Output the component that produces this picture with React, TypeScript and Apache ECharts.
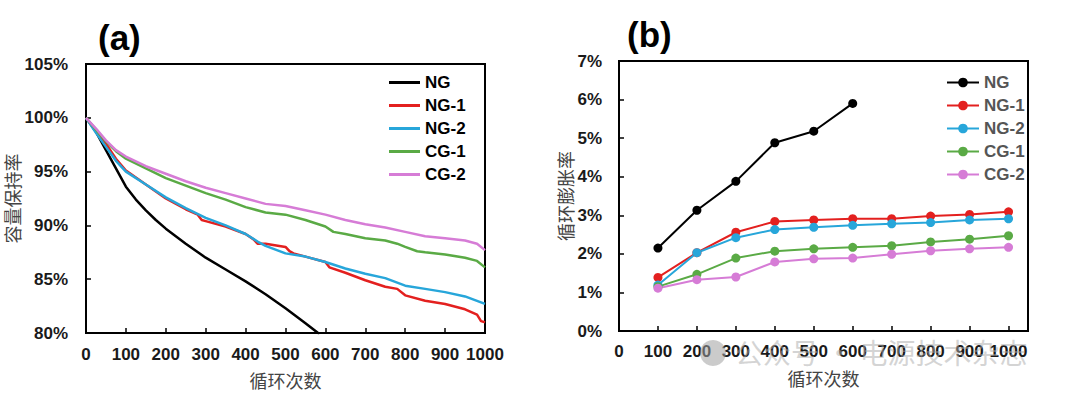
import React, { useEffect, useRef } from "react";
import * as echarts from "echarts";

// ---------- Panel (a): capacity retention (%) vs cycle ----------
const seriesNamesA = ["NG", "NG-1", "NG-2", "CG-1", "CG-2"];
const colors = ["#000000", "#E3201F", "#27A6DA", "#5AAA45", "#D67CD6"];

const ngA: [number, number][] = [
  [0, 100], [25, 98.7], [50, 97.0], [75, 95.3], [100, 93.6], [125, 92.4], [150, 91.4],
  [175, 90.5], [200, 89.7], [250, 88.3], [300, 87.0], [350, 85.9], [400, 84.8],
  [450, 83.6], [500, 82.3], [550, 80.9], [585, 79.9],
];
const ng1A: [number, number][] = [
  [0, 100], [25, 98.8], [50, 97.6], [75, 96.2], [100, 95.1], [150, 93.8], [200, 92.5],
  [250, 91.5], [280, 91.0], [290, 90.5], [300, 90.4], [350, 89.9], [400, 89.2],
  [420, 88.7], [430, 88.3], [450, 88.3], [500, 88.0], [510, 87.6], [520, 87.4],
  [550, 87.1], [600, 86.6], [610, 86.1], [650, 85.6], [700, 84.9], [750, 84.3],
  [780, 84.1], [800, 83.5], [850, 83.0], [900, 82.7], [950, 82.2], [980, 81.7],
  [990, 81.1], [1000, 81.0],
];
const ng2A: [number, number][] = [
  [0, 100], [25, 98.6], [50, 97.3], [75, 96.0], [100, 95.0], [150, 93.8], [200, 92.6],
  [250, 91.6], [300, 90.7], [350, 90.0], [400, 89.2], [430, 88.5], [450, 88.1],
  [500, 87.4], [550, 87.1], [600, 86.6], [650, 86.0], [700, 85.5], [750, 85.1],
  [800, 84.4], [850, 84.1], [900, 83.8], [950, 83.4], [1000, 82.7],
];
const cg1A: [number, number][] = [
  [0, 100], [25, 98.9], [50, 97.8], [75, 96.9], [100, 96.2], [150, 95.3], [200, 94.4],
  [250, 93.7], [300, 93.0], [350, 92.4], [400, 91.7], [450, 91.2], [500, 91.0],
  [550, 90.5], [600, 89.9], [620, 89.4], [650, 89.2], [700, 88.8], [750, 88.6],
  [780, 88.3], [800, 88.0], [830, 87.6], [850, 87.5], [900, 87.3], [950, 87.0],
  [980, 86.7], [1000, 86.1],
];
const cg2A: [number, number][] = [
  [0, 100], [25, 99.0], [50, 97.9], [75, 97.0], [100, 96.4], [150, 95.5], [200, 94.8],
  [250, 94.1], [300, 93.5], [350, 93.0], [400, 92.5], [450, 92.0], [500, 91.8],
  [550, 91.4], [600, 91.0], [650, 90.5], [700, 90.1], [750, 89.8], [800, 89.4],
  [850, 89.0], [900, 88.8], [950, 88.6], [980, 88.3], [1000, 87.7],
];

// ---------- Panel (b): cycle swelling rate (%) vs cycle ----------
const cyclesB = [100, 200, 300, 400, 500, 600, 700, 800, 900, 1000];
const ngB = [2.15, 3.13, 3.88, 4.88, 5.18, 5.9];
const ng1B = [1.39, 2.03, 2.56, 2.84, 2.88, 2.91, 2.91, 2.98, 3.02, 3.09];
const ng2B = [1.19, 2.03, 2.42, 2.63, 2.69, 2.74, 2.78, 2.81, 2.88, 2.91];
const cg1B = [1.15, 1.47, 1.89, 2.07, 2.13, 2.17, 2.21, 2.31, 2.38, 2.47];
const cg2B = [1.11, 1.33, 1.4, 1.79, 1.87, 1.89, 1.99, 2.08, 2.13, 2.17];

const xAxisName = "循环次数";
const yNameA = "容量保持率";
const yNameB = "循环膨胀率";
const titleA = "(a)";
const titleB = "(b)";
const watermark = "公众号 · 电源技术杂志";

const LAT = "'Liberation Sans', Arial, sans-serif";
const CJK = "'Noto Sans CJK SC', sans-serif";

export default function App() {
  const ref = useRef<HTMLDivElement>(null);

  useEffect(() => {
    if (!ref.current) return;
    const chart = echarts.init(ref.current, undefined, { renderer: "svg" });

    const dataA = [ngA, ng1A, ng2A, cg1A, cg2A];
    const dataB = [ngB, ng1B, ng2B, cg1B, cg2B];

    const labelStyle = {
      fontFamily: LAT,
      fontWeight: "bold" as const,
      fontSize: 17,
      color: "#1a1a1a",
    };
    const nameStyle = {
      fontFamily: CJK,
      fontSize: 18,
      color: "#444",
    };
    const axisLine = { show: true, onZero: false, lineStyle: { color: "#000", width: 2 } };
    const axisTick = { show: true, inside: true, length: 5, lineStyle: { color: "#000", width: 1.5 } };

    const seriesA = seriesNamesA.map((n, i) => ({
      name: n,
      type: "line",
      xAxisIndex: 0,
      yAxisIndex: 0,
      data: dataA[i],
      symbol: "none",
      clip: true,
      lineStyle: { color: colors[i], width: 2.5 },
      itemStyle: { color: colors[i] },
    }));
    const seriesB = seriesNamesA.map((n, i) => ({
      name: "b:" + n,
      type: "line",
      xAxisIndex: 1,
      yAxisIndex: 1,
      data: dataB[i].map((v, j) => [cyclesB[j], v]),
      symbol: "circle",
      symbolSize: 9,
      lineStyle: { color: colors[i], width: 2 },
      itemStyle: { color: colors[i] },
    }));

    chart.setOption({
      animation: false,
      backgroundColor: "#fff",
      grid: [
        { left: 86, top: 64, width: 399, height: 269, show: true, borderColor: "#000", borderWidth: 2 },
        { left: 619, top: 61, width: 409, height: 270, show: true, borderColor: "#000", borderWidth: 2 },
      ],
      xAxis: [
        {
          type: "value", gridIndex: 0, min: 0, max: 1000, interval: 100,
          axisLine, axisTick, splitLine: { show: false },
          axisLabel: { ...labelStyle, margin: 13, formatter: (v: number) => String(v) },
          name: xAxisName, nameLocation: "middle", nameGap: 38, nameTextStyle: nameStyle,
        },
        {
          type: "value", gridIndex: 1, min: 0, max: 1050, interval: 100,
          axisLine, axisTick, splitLine: { show: false },
          axisLabel: { ...labelStyle, margin: 12, showMaxLabel: false,
            formatter: (v: number) => (v > 1000 ? "" : String(v)) },
          name: xAxisName, nameLocation: "middle", nameGap: 38, nameTextStyle: nameStyle,
        },
      ],
      yAxis: [
        {
          type: "value", gridIndex: 0, min: 80, max: 105, interval: 5,
          axisLine, axisTick, splitLine: { show: false },
          axisLabel: { ...labelStyle, margin: 18, formatter: "{value}%" },
          name: yNameA, nameLocation: "middle", nameGap: 54, nameTextStyle: nameStyle,
        },
        {
          type: "value", gridIndex: 1, min: 0, max: 7, interval: 1,
          axisLine, axisTick, splitLine: { show: false },
          axisLabel: { ...labelStyle, margin: 17, formatter: "{value}%" },
          name: yNameB, nameLocation: "middle", nameGap: 41, nameTextStyle: nameStyle,
        },
      ],
      legend: [
        {
          data: seriesNamesA,
          orient: "vertical",
          left: 384,
          top: 69,
          icon: "rect",
          itemWidth: 31,
          itemHeight: 3,
          itemGap: 6,
          textStyle: { fontFamily: LAT, fontWeight: "bold", fontSize: 17, color: "#000" },
        },
        {
          data: seriesNamesA.map((n) => "b:" + n),
          orient: "vertical",
          left: 941,
          top: 69,
          itemWidth: 32,
          itemHeight: 12,
          itemGap: 6,
          formatter: (name: string) => name.replace("b:", ""),
          textStyle: { fontFamily: LAT, fontWeight: "bold", fontSize: 17, color: "#555" },
        },
      ],
      graphic: [
        {
          type: "text", left: 98, top: 20, z: 10,
          style: { text: titleA, fontFamily: LAT, fontWeight: "bold", fontSize: 35, fill: "#000" },
        },
        {
          type: "text", left: 627, top: 17, z: 10,
          style: { text: titleB, fontFamily: LAT, fontWeight: "bold", fontSize: 35, fill: "#000" },
        },
        {
          type: "circle", z: 20,
          shape: { cx: 713, cy: 353, r: 13 },
          style: { fill: "rgba(160,160,160,0.55)" },
        },
        {
          type: "text", left: 735, top: 338, z: 20,
          style: { text: watermark, fontFamily: CJK, fontSize: 28, fill: "rgba(170,170,170,0.5)" },
        },
      ],
      series: [...seriesA, ...seriesB],
    });

    return () => chart.dispose();
  }, []);

  return (
    <div
      ref={ref}
      style={{ position: "absolute", left: 0, top: 0, width: 1080, height: 395, background: "#fff" }}
    />
  );
}
